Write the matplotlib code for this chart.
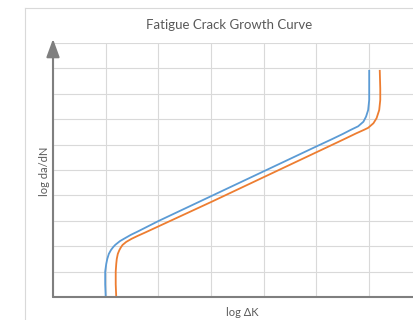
import numpy as np
import matplotlib
matplotlib.use('Agg')
import matplotlib.pyplot as plt
from matplotlib.lines import Line2D

# curve points (x = log dK grid units, y = log da/dN grid units)
blue_x = [1.00, 0.99, 0.99, 1.01, 1.03, 1.06, 1.10, 1.14, 1.18, 1.27, 1.37, 1.48, 1.60,
          2.0, 3.0, 4.0, 5.0, 5.30, 5.50, 5.65, 5.79, 5.89, 5.94, 5.98, 6.00, 6.00]
blue_y = [0.00, 0.50, 1.00, 1.30, 1.50, 1.70, 1.85, 1.96, 2.05, 2.20, 2.32, 2.45, 2.57,
          2.99, 3.97, 4.95, 5.93, 6.22, 6.42, 6.58, 6.72, 6.90, 7.10, 7.36, 7.76, 8.94]
orange_x = [1.20, 1.19, 1.19, 1.20, 1.21, 1.23, 1.26, 1.29, 1.32, 1.39, 1.49, 1.60, 1.75,
            2.0, 3.0, 4.0, 5.0, 5.50, 5.75, 5.90, 5.98, 6.08, 6.14, 6.19, 6.21, 6.21, 6.20]
orange_y = [0.00, 0.50, 1.00, 1.30, 1.50, 1.70, 1.85, 1.96, 2.05, 2.17, 2.29, 2.40, 2.54,
            2.78, 3.74, 4.72, 5.70, 6.19, 6.44, 6.58, 6.66, 6.84, 7.04, 7.36, 7.76, 8.20, 8.94]

title = 'Fatigue Crack Growth Curve'
xlabel = 'log ΔK'
ylabel = 'log da/dN'

W, H = 414, 320
fig = plt.figure(figsize=(W / 100, H / 100), dpi=100)
plt.rcParams['font.family'] = ['Lato', 'DejaVu Sans']

# chart border (left and top edges visible)
fig.add_artist(Line2D([25 / W, 25 / W], [0, 1 - 8 / H], color='#d9d9d9', lw=0.8))
fig.add_artist(Line2D([25 / W, 1], [1 - 8 / H, 1 - 8 / H], color='#d9d9d9', lw=0.8))

x0, x1 = 53, 414
y0, y1 = 297, 43
ax = fig.add_axes([x0 / W, 1 - y0 / H, (x1 - x0) / W, (y0 - y1) / H])
ax.set_xlim(0, (x1 - x0) / 52.7)
ax.set_ylim(0, 10)
ax.set_xticks(np.arange(0, 7))
ax.set_yticks(np.arange(0, 11))
ax.grid(True, color='#d9d9d9', lw=0.8)
ax.tick_params(length=0, labelbottom=False, labelleft=False)
for s in ax.spines.values():
    s.set_visible(False)

ax.plot(blue_x, blue_y, color='#5b9bd5', lw=1.3, solid_capstyle='butt')
ax.plot(orange_x, orange_y, color='#ed7d31', lw=1.3, solid_capstyle='butt')

axis_col = '#7f7f7f'
head = '-|>,head_length=1.1,head_width=0.4'
ax.annotate('', xy=(0, 10.16), xytext=(0, 0), annotation_clip=False,
            arrowprops=dict(arrowstyle=head, color=axis_col, lw=1.5,
                            mutation_scale=10, shrinkA=0, shrinkB=0))
ax.annotate('', xy=(7.2, 0), xytext=(0, 0), annotation_clip=False,
            arrowprops=dict(arrowstyle=head, color=axis_col, lw=1.5,
                            mutation_scale=10, shrinkA=0, shrinkB=0))

fig.text(229 / W, 1 - 25 / H, title, ha='center', va='center', fontsize=9.5, color='#595959')
fig.text(242 / W, 1 - 313 / H, xlabel, ha='center', va='center', fontsize=8, color='#595959')
fig.text(45 / W, 1 - 171 / H, ylabel, ha='center', va='center', rotation=90, fontsize=8, color='#595959')

fig.savefig('out.png', dpi=100)
